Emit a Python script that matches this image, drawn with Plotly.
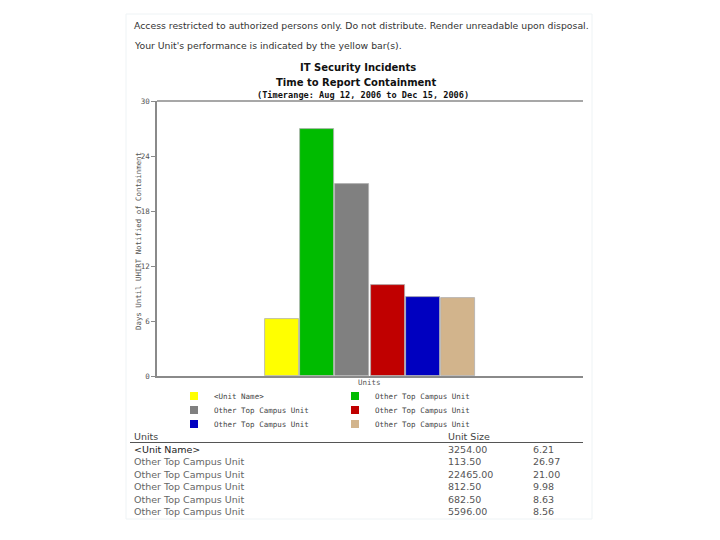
import plotly.graph_objects as go

# ---- data ----
unit_names = ["<Unit Name>", "Other Top Campus Unit", "Other Top Campus Unit",
              "Other Top Campus Unit", "Other Top Campus Unit", "Other Top Campus Unit"]
unit_sizes = ["3254.00", "113.50", "22465.00", "812.50", "682.50", "5596.00"]
days_values = [6.21, 26.97, 21.00, 9.98, 8.63, 8.56]
bar_colors = ["#ffff00", "#00bb00", "#808080", "#c00000", "#0000c0", "#d2b48c"]
y_ticks = [0, 6, 12, 18, 24, 30]

header1 = "Access restricted to authorized persons only. Do not distribute. Render unreadable upon disposal."
header2 = "Your Unit's performance is indicated by the yellow bar(s)."
title1 = "IT Security Incidents"
title2 = "Time to Report Containment"
title3 = "(Timerange: Aug 12, 2006 to Dec 15, 2006)"
y_title = "Days Until UHIRT Notified of Containment"
x_title = "Units"

# page body has an 8px margin: figure is placed at (8, 8)
OFF = 8
W, H = 720 - 2 * OFF, 540 - 2 * OFF
L, R, T, B = 157, 583, 101, 376   # plot area in page pixels


def px(x):
    return (x - L) / (R - L)


def py(y):
    return (B - y) / (B - T)


MONO = "DejaVu Sans Mono"
SANS = "DejaVu Sans"

fig = go.Figure()

for i, (name, val, col) in enumerate(zip(unit_names, days_values, bar_colors)):
    fig.add_trace(go.Bar(
        x=[i], y=[val], name=name, width=0.96,
        marker=dict(color=col, line=dict(color="#b0b0b0", width=0.8)),
        showlegend=False, hoverinfo="skip",
    ))

# legend entries (small square keys), one legend box per entry
legend_pos = [(214, 396), (375, 396), (214, 410), (375, 410), (214, 424), (375, 424)]
legends = {}
for i, (name, col) in enumerate(zip(unit_names, bar_colors)):
    key = "legend" if i == 0 else f"legend{i+1}"
    fig.add_trace(go.Scatter(
        x=[None], y=[None], mode="markers", name=name, legend=key,
        marker=dict(symbol="square", size=8, color=col, line=dict(width=0)),
        showlegend=True, hoverinfo="skip",
    ))
    lx, ly = legend_pos[i]
    legends[key] = dict(
        x=px(lx - 40), y=py(ly), xanchor="left", yanchor="middle",
        bgcolor="rgba(0,0,0,0)", borderwidth=0,
        font=dict(family=MONO, size=7.5, color="#444444"),
        itemwidth=30, tracegroupgap=0,
    )

annotations = []


def add_text(x, y, text, size, family=SANS, color="#333333", xanchor="left", bold=False, angle=0):
    annotations.append(dict(
        x=px(x), y=py(y), xref="paper", yref="paper", text=f"<b>{text}</b>" if bold else text,
        showarrow=False, xanchor=xanchor, yanchor="middle", textangle=angle,
        font=dict(family=family, size=size, color=color),
    ))


add_text(132, 25, header1, 9.3)
add_text(132, 45, header2, 9.3)
add_text(358, 68, title1, 10, color="#111111", xanchor="center", bold=True)
add_text(356, 82, title2, 10, color="#111111", xanchor="center", bold=True)
add_text(363, 95, title3, 8.6, family=MONO, color="#111111", xanchor="center", bold=True)
add_text(139, 241, y_title, 7.4, family=MONO, color="#555555", xanchor="center", angle=-90)
add_text(369, 382, x_title, 7.5, family=MONO, color="#555555", xanchor="center")

# table
add_text(132, 436, "Units", 9.5, color="#444444")
add_text(446, 436, "Unit Size", 9.5, color="#444444")
row_ys = [449, 461.5, 474, 486.5, 499, 511]
for i, (name, size, val) in enumerate(zip(unit_names, unit_sizes, days_values)):
    c = "#222222" if i == 0 else "#666666"
    add_text(132, row_ys[i], name.replace("<", "&lt;").replace(">", "&gt;"), 9.5, color=c)
    add_text(446, row_ys[i], size, 9.5, color="#555555")
    add_text(531, row_ys[i], f"{val:.2f}", 9.5, color="#555555")

shapes = [
    dict(type="line", xref="paper", yref="paper", x0=0, x1=1, y0=1, y1=1,
         line=dict(color="#8a8a8a", width=1.5)),
    dict(type="line", xref="paper", yref="paper", x0=px(130), x1=px(583), y0=py(442.5), y1=py(442.5),
         line=dict(color="#555555", width=1)),
    dict(type="rect", xref="paper", yref="paper", x0=px(126), x1=px(592), y0=py(14), y1=py(519),
         line=dict(color="#eef3f5", width=1), layer="below"),
]

fig.update_layout(
    width=W, height=H,
    margin=dict(l=L - OFF, r=W - (R - OFF), t=T - OFF, b=H - (B - OFF), pad=0),
    paper_bgcolor="white", plot_bgcolor="white",
    barmode="overlay", bargap=0,
    showlegend=True,
    annotations=annotations, shapes=shapes,
    xaxis=dict(range=[-3.53, 8.53], showticklabels=False, ticks="", showgrid=False,
               zeroline=False, showline=True, linecolor="#8a8a8a", linewidth=1.5, fixedrange=True),
    yaxis=dict(range=[0, 30], tickvals=y_ticks, ticks="outside", ticklen=4, tickcolor="#8a8a8a",
               showgrid=False, zeroline=False, showline=True, linecolor="#8a8a8a", linewidth=1.5,
               tickfont=dict(family=MONO, size=7.5, color="#555555"), fixedrange=True),
    **legends,
)

fig.write_html("out.html")
